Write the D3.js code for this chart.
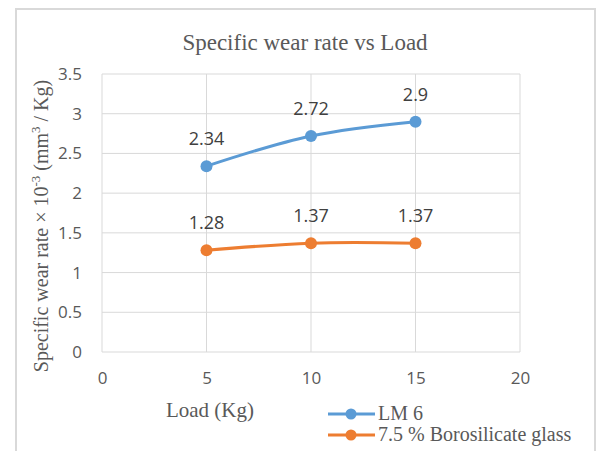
<!DOCTYPE html>
<html>
<head>
<meta charset="utf-8">
<script src="https://cdn.jsdelivr.net/npm/d3@7"></script>
<style>
  body { margin: 0; background: #fff; }
  svg { display: block; }
</style>
</head>
<body>
<div class="chart"></div>
<script>
// chart data
var loads = [5, 10, 15];
var lm6 = [2.34, 2.72, 2.9];
var boro = [1.28, 1.37, 1.37];
var seriesNames = ["LM 6", "7.5 % Borosilicate glass"];
var seriesColors = ["#5b9bd5", "#ed7d31"];
var xTicks = [0, 5, 10, 15, 20];
var yTicks = [0, 0.5, 1, 1.5, 2, 2.5, 3, 3.5];

var w = 599, h = 451;
var margin = {top: 74, right: 79, bottom: 99, left: 102};
var serif = "'Liberation Serif', 'Times New Roman', serif";
var sans = "'Open Sans', 'Liberation Sans', sans-serif";

var svg = d3.select("div.chart")
  .append("svg")
  .attr("width", w)
  .attr("height", h);

// outer chart frame
svg.append("rect")
  .attr("x", 16).attr("y", 9)
  .attr("width", 579).attr("height", 450)
  .attr("fill", "#fff")
  .attr("stroke", "#d9d9d9")
  .attr("stroke-width", 2);

var x = d3.scaleLinear().domain([0, 20]).range([margin.left, w - margin.right]);
var y = d3.scaleLinear().domain([0, 3.5]).range([h - margin.bottom, margin.top]);

// gridlines
svg.append("g").selectAll("line.h")
  .data(yTicks)
  .enter().append("line")
    .attr("x1", x(0)).attr("x2", x(20))
    .attr("y1", d => y(d)).attr("y2", d => y(d))
    .attr("stroke", "#d9d9d9").attr("stroke-width", 1);

svg.append("g").selectAll("line.v")
  .data(xTicks)
  .enter().append("line")
    .attr("x1", d => x(d)).attr("x2", d => x(d))
    .attr("y1", y(0)).attr("y2", y(3.5))
    .attr("stroke", "#d9d9d9").attr("stroke-width", 1);

// axes (labels only)
var yAxis = svg.append("g")
  .attr("transform", `translate(${x(0)},0)`)
  .call(d3.axisLeft(y).tickValues(yTicks).tickSize(0).tickPadding(20).tickFormat(d3.format("")));
var xAxis = svg.append("g")
  .attr("transform", `translate(0,${y(0)})`)
  .call(d3.axisBottom(x).tickValues(xTicks).tickSize(0).tickPadding(20));
[xAxis, yAxis].forEach(function(a){
  a.select(".domain").remove();
  a.selectAll("text")
    .attr("fill", "#595959")
    .style("font-family", sans)
    .style("font-size", "17px");
});

// title
svg.append("text")
  .attr("x", 305).attr("y", 50)
  .attr("text-anchor", "middle")
  .attr("fill", "#595959")
  .style("font-family", serif)
  .style("font-size", "23px")
  .text("Specific wear rate vs Load");

// x axis title
svg.append("text")
  .attr("x", 210).attr("y", 417)
  .attr("text-anchor", "middle")
  .attr("fill", "#595959")
  .style("font-family", serif)
  .style("font-size", "21px")
  .text("Load (Kg)");

// y axis title with superscripts
var yt = svg.append("text")
  .attr("transform", `translate(48,226) rotate(-90)`)
  .attr("text-anchor", "middle")
  .attr("fill", "#595959")
  .style("font-family", serif)
  .style("font-size", "20px");
yt.append("tspan").text("Specific wear rate × 10");
yt.append("tspan").attr("dy", -8).style("font-size", "13px").text("-3");
yt.append("tspan").attr("dy", 8).text(" (mm");
yt.append("tspan").attr("dy", -8).style("font-size", "13px").text("3");
yt.append("tspan").attr("dy", 8).text(" / Kg)");

// series
var series = [lm6, boro];
var line = d3.line()
  .x((d, i) => x(loads[i]))
  .y(d => y(d))
  .curve(d3.curveCatmullRom.alpha(0.5));

series.forEach(function(vals, s){
  var g = svg.append("g");
  g.append("path")
    .datum(vals)
    .attr("d", line)
    .attr("fill", "none")
    .attr("stroke", seriesColors[s])
    .attr("stroke-width", 3)
    .attr("stroke-linecap", "round");
  g.selectAll("circle")
    .data(vals)
    .enter().append("circle")
      .attr("cx", (d, i) => x(loads[i]))
      .attr("cy", d => y(d))
      .attr("r", 6)
      .attr("fill", seriesColors[s]);
  g.selectAll("text")
    .data(vals)
    .enter().append("text")
      .attr("x", (d, i) => x(loads[i]))
      .attr("y", d => y(d) - 21)
      .attr("text-anchor", "middle")
      .attr("fill", "#404040")
      .style("font-family", sans)
      .style("font-size", "18px")
      .text(d => d);
});

// legend
var legend = svg.append("g");
seriesNames.forEach(function(name, s){
  var ly = 414 + s * 21;
  legend.append("line")
    .attr("x1", 328).attr("x2", 375)
    .attr("y1", ly).attr("y2", ly)
    .attr("stroke", seriesColors[s]).attr("stroke-width", 3);
  legend.append("circle")
    .attr("cx", 351).attr("cy", ly).attr("r", 5.5)
    .attr("fill", seriesColors[s]);
  legend.append("text")
    .attr("x", 378).attr("y", ly + 6)
    .attr("fill", "#595959")
    .style("font-family", serif)
    .style("font-size", "20px")
    .text(name);
});
</script>
</body>
</html>
